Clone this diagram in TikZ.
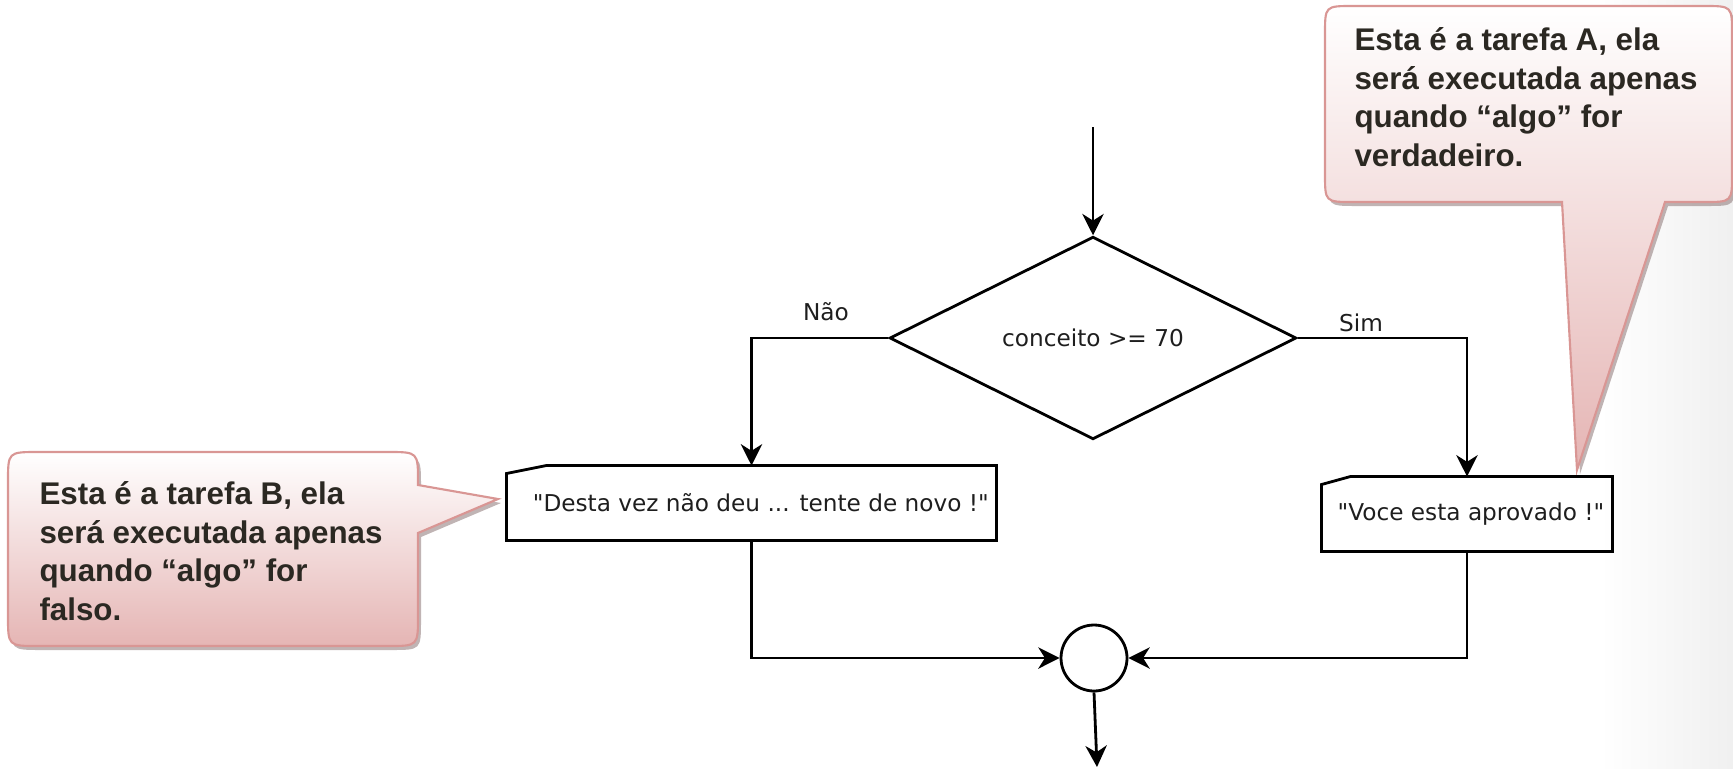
\documentclass[tikz,border=0pt]{standalone}
\usepackage{fontspec}
\setmainfont{Liberation Sans}
\newfontfamily\flowfont{DejaVu Sans}
\usetikzlibrary{shapes.geometric,arrows.meta,calc}

\definecolor{calloutline}{RGB}{217,150,148}
\definecolor{callouttop}{RGB}{255,255,255}
\definecolor{calloutbottom}{RGB}{229,181,180}
\definecolor{callouttext}{RGB}{43,40,34}
\definecolor{calloutshadow}{RGB}{140,118,118}
\definecolor{flowtext}{RGB}{30,30,30}

\tikzset{every picture/.style={line width=0.75pt}}
\tikzset{
  flowarrow/.style={line width=2.1pt,-{Stealth[length=16pt,width=16pt,inset=5pt]}},
  decision/.style={shape=diamond,draw,line width=2.1pt,minimum width=305pt,minimum height=152pt,inner sep=0pt,text=flowtext,font=\flowfont\fontsize{17.4}{20}\selectfont},
  msgbox/.style={inner sep=0pt,minimum height=55.5pt,text=flowtext,font=\flowfont\fontsize{17.4}{20}\selectfont},
  joinpoint/.style={shape=circle,draw,line width=2.1pt,minimum size=49.5pt,inner sep=0pt},
  flowlabel/.style={inner sep=0pt,text=flowtext,font=\flowfont\fontsize{17.4}{20}\selectfont},
  calloutbody/.style={draw=calloutline,line width=1.6pt,top color=callouttop,bottom color=calloutbottom},
  calloutshade/.style={fill=calloutshadow,opacity=0.55},
  callouttxt/.style={inner sep=0pt,anchor=north west,align=left,text=callouttext,font=\bfseries\fontsize{23.5}{28.9}\selectfont}
}

\begin{document}
\begin{tikzpicture}[x=0.75pt,y=0.75pt,yscale=-1,xscale=1]
\path[use as bounding box] (0,0) rectangle (1733,768);

%Shape: Right edge shade
\shade[left color=white,right color=black!6,draw=none] (1600,0) rectangle (1733,768);

%Shape: Callout shadows
\fill[calloutshade] (1356,10) -- (1707,10) .. controls (1735,10) .. (1735,38) -- (1735,178) .. controls (1735,206) .. (1707,206) -- (1668,206) -- (1580,474) -- (1565,206) -- (1356,206) .. controls (1328,206) .. (1328,178) -- (1328,38) .. controls (1328,10) .. (1356,10) -- cycle ;
\fill[calloutshade] (41,456) -- (391,456) .. controls (421,456) .. (421,486) -- (421,489) -- (501,503) -- (421,537) -- (421,620) .. controls (421,650) .. (391,650) -- (41,650) .. controls (11,650) .. (11,620) -- (11,486) .. controls (11,456) .. (41,456) -- cycle ;

%Shape: Callout A
\draw[calloutbody] (1353,6) -- (1704,6) .. controls (1732,6) .. (1732,34) -- (1732,174) .. controls (1732,202) .. (1704,202) -- (1665,202) -- (1577,470) -- (1562,202) -- (1353,202) .. controls (1325,202) .. (1325,174) -- (1325,34) .. controls (1325,6) .. (1353,6) -- cycle ;
%Shape: Callout B
\draw[calloutbody] (38,452) -- (388,452) .. controls (418,452) .. (418,482) -- (418,485) -- (498,499) -- (418,533) -- (418,616) .. controls (418,646) .. (388,646) -- (38,646) .. controls (8,646) .. (8,616) -- (8,482) .. controls (8,452) .. (38,452) -- cycle ;

% Text Node
\node[callouttxt] (noteA) at (1354,27) {Esta é a tarefa A, ela\\será executada apenas\\quando “algo” for\\verdadeiro.};
% Text Node
\node[callouttxt] (noteB) at (39,481) {Esta é a tarefa B, ela\\será executada apenas\\quando “algo” for\\falso.};

%Flowchart nodes
\coordinate (start) at (1093,127);
\node[decision] (cond) at (1093,338) {conceito >= 70};
\node[msgbox,minimum width=366.75pt] (msgB) at (751.5,503) {\hspace*{14pt}"Desta vez não deu ... tente de novo !"};
\node[msgbox,minimum width=217.5pt] (msgA) at (1467,514) {\hspace*{6pt}"Voce esta aprovado !"};
\node[joinpoint] (join) at (1094,658) {};
\coordinate (end) at (1097,767);

%Output boxes with cut corner
\draw[line width=2.1pt] ($(msgB.north west)+(0,8)$) -- ($(msgB.north west)+(40,0)$) -- (msgB.north east) -- (msgB.south east) -- (msgB.south west) -- cycle ;
\draw[line width=2.1pt] ($(msgA.north west)+(0,8)$) -- ($(msgA.north west)+(29,0)$) -- (msgA.north east) -- (msgA.south east) -- (msgA.south west) -- cycle ;

% Text Node
\node[flowlabel] (nao) at (826,312) {Não};
% Text Node
\node[flowlabel] (sim) at (1361,323) {Sim};

%Straight Lines
\draw[flowarrow] (start) -- (cond.north) ;
\draw[flowarrow] (cond.west) -| (msgB.north) ;
\draw[flowarrow] (cond.east) -| (msgA.north) ;
\draw[flowarrow] (msgB.south) |- (join.west) ;
\draw[flowarrow] (msgA.south) |- (join.east) ;
\draw[flowarrow] (join.south) -- (end) ;

\end{tikzpicture}
\end{document}
